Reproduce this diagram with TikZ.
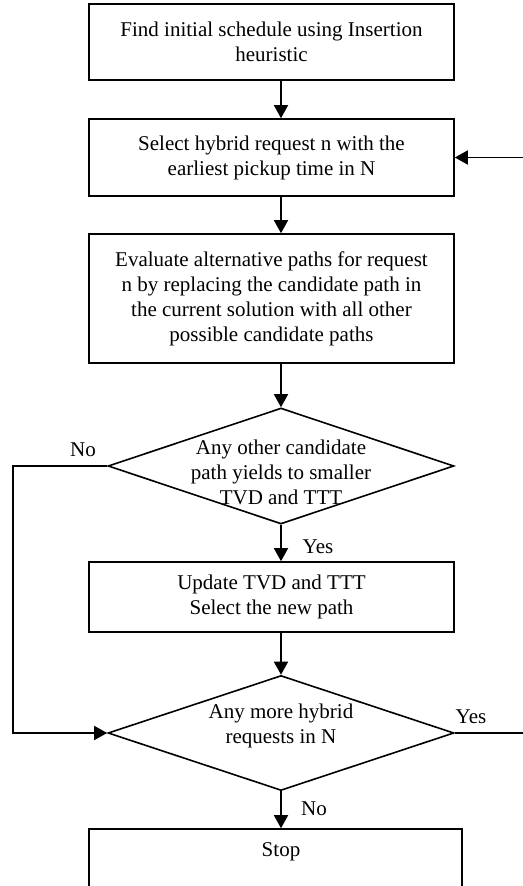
\documentclass[tikz,border=0pt]{standalone}
\usepackage{fontspec}
\setmainfont{Liberation Serif}
\usetikzlibrary{shapes.geometric,arrows.meta}

\begin{document}
\begin{tikzpicture}[x=1pt,y=-1pt,
  every node/.style={font=\fontsize{21}{25}\selectfont},
  box/.style={draw, line width=1.6pt, minimum width=365pt, align=center, inner sep=0pt},
  dec/.style={draw, diamond, line width=1.6pt, minimum width=346pt, minimum height=116pt, inner sep=0pt},
  arr/.style={line width=1.6pt, -{Triangle[length=13pt,width=14pt]}},
  lbl/.style={inner sep=0pt}]
\useasboundingbox (0,0) rectangle (522,886);

% process boxes and decisions
\node[box, minimum height=76pt] (b1) at (271.5,42) {Find initial schedule using Insertion\\heuristic};
\node[box, minimum height=77pt] (b2) at (271.5,157.5) {Select hybrid request n with the\\earliest pickup time in N};
\node[box, minimum height=129pt] (b3) at (271.5,298.5) {Evaluate alternative paths for request\\n by replacing the candidate path in\\the current solution with all other\\possible candidate paths};
\node[dec] (d1) at (281,466) {};
\node[lbl, align=center] (t1) at (281,472) {Any other candidate\\path yields to smaller\\TVD and TTT};
\node[box, minimum height=70pt] (b4) at (271.5,597) {Update TVD and TTT\\Select the new path};
\node[dec, minimum height=115pt] (d2) at (281,733) {};
\node[lbl, align=center] (t2) at (281,725.5) {Any more hybrid\\requests in N};
\node[box, minimum width=373pt, minimum height=66pt] (b5) at (275.5,862) {};
\node[lbl] (t5) at (281,852) {Stop};

% corners of the loop-back lines (the right one lies just past the edge)
\coordinate (lft) at (13,466);
\coordinate (rgt) at (526,733);

% connectors
\draw[arr] (b1.south -| d1) -- (b2.north -| d1);
\draw[arr] (b2.south -| d1) -- (b3.north -| d1);
\draw[arr] (b3.south -| d1) -- (d1.north);
\draw[arr] (d1.south) -- (b4.north -| d1);
\draw[arr] (b4.south -| d1) -- (d2.north);
\draw[arr] (d2.south) -- (b5.north -| d2);
\draw[arr] (d1.west) -- (lft) |- (d2.west);
\draw[arr] (d2.east) -- (rgt) |- (b2.east);

% branch labels
\node[lbl] (no1) at (83,450) {No};
\node[lbl] (yes1) at (318,547) {Yes};
\node[lbl] (yes2) at (471,717) {Yes};
\node[lbl] (no2) at (314,809) {No};
\end{tikzpicture}
\end{document}
